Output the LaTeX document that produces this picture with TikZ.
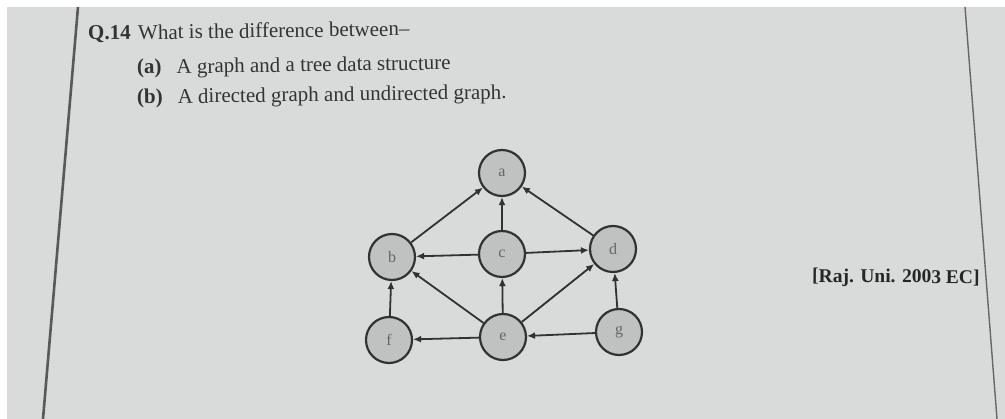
\documentclass[tikz,border=0pt]{standalone}
\usepackage{fontspec}
\setmainfont{Liberation Serif}
\usetikzlibrary{positioning,arrows.meta}
\definecolor{pagegray}{RGB}{217,219,219}
\definecolor{nodegray}{RGB}{192,193,193}
\definecolor{inkgray}{RGB}{50,50,50}

\begin{document}
\begin{tikzpicture}[x=1pt, y=-1pt, >={Latex[length=8pt,width=7pt]},
    vertex/.style={circle, draw=inkgray, line width=2.2pt, fill=nodegray, minimum size=46pt, inner sep=0pt, font=\fontsize{16}{16}\selectfont, text=black!60},
    edge/.style={->, line width=1.8pt, draw=inkgray},
    qtext/.style={anchor=base west, inner sep=0pt, rotate=0.8, font=\fontsize{21}{24}\selectfont, text=black!80}]
    % Page (photo) background
    \fill[white] (0,0) rectangle (1005,419);
    \fill[pagegray] (7,7) rectangle (1005,419);
    \useasboundingbox (0,0) rectangle (1005,419);

    % Page rules
    \draw[black!65, line width=2.6pt] (78,7) -- (43,419);
    \draw[black!60, line width=1.4pt] (965,7) -- (997,419);

    % Question text
    \node[qtext] (qno) at (88,40) {\textbf{Q.14}};
    \node[qtext] (qline) at (138,39.5) {What is the difference between--};
    \node[qtext] (parta) at (137,74) {\textbf{(a)}\hspace{15pt}A graph and a tree data structure};
    \node[qtext] (partb) at (137,104) {\textbf{(b)}\hspace{15pt}A directed graph and undirected graph.};

    % Source
    \node[anchor=base west, inner sep=0pt, rotate=-0.5, font=\fontsize{19.5}{22}\selectfont\bfseries, text=black!85] (src) at (812,282) {[Raj. Uni. 2003 EC]};

    % Vertices
    \node[vertex] (a) at (502,173) {a};
    \node[vertex] (b) at (392,257) {b};
    \node[vertex] (c) at (502,254) {c};
    \node[vertex] (d) at (613,249) {d};
    \node[vertex] (f) at (389,340) {f};
    \node[vertex] (e) at (503,337) {e};
    \node[vertex] (g) at (619,332) {g};

    % Directed edges
    \draw[edge] (b) -- (a);
    \draw[edge] (c) -- (a);
    \draw[edge] (d) -- (a);
    \draw[edge] (c) -- (b);
    \draw[edge] (c) -- (d);
    \draw[edge] (f) -- (b);
    \draw[edge] (e) -- (b);
    \draw[edge] (e) -- (c);
    \draw[edge] (e) -- (d);
    \draw[edge] (e) -- (f);
    \draw[edge] (g) -- (e);
    \draw[edge] (g) -- (d);
\end{tikzpicture}
\end{document}
